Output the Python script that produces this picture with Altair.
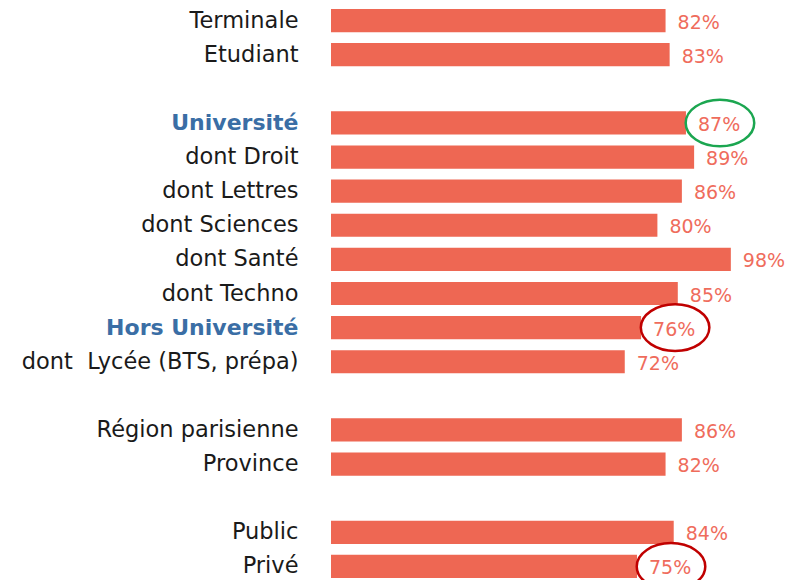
import altair as alt
import pandas as pd

categories = ["Terminale", "Etudiant", " ", "Université", "dont Droit", "dont Lettres",
              "dont Sciences", "dont Santé", "dont Techno", "Hors Université",
              "dont\u00a0 Lycée (BTS, prépa)", "  ", "Région parisienne", "Province", "   ",
              "Public", "Privé"]
values = [82, 83, None, 87, 89, 86, 80, 98, 85, 76, 72, None, 86, 82, None, 84, 75]
headers = ["Université", "Hors Université"]
circled_green = ["Université"]
circled_red = ["Hors Université", "Privé"]

df = pd.DataFrame({"cat": categories, "val": values})
df = df.dropna()

BAR = "#EE6753"
TXT = "#EF6C5C"

hdr_test = "indexof(" + str(headers).replace('"', "'") + ", datum.value) >= 0"

y = alt.Y("cat:N", sort=categories,
          scale=alt.Scale(domain=categories, paddingInner=0.32, paddingOuter=0),
          axis=alt.Axis(title=None, domain=False, ticks=False, grid=False,
                        labelPadding=33,
                        labelFont="DejaVu Sans",
                        labelFontSize={"condition": {"test": hdr_test, "value": 22}, "value": 22.5},
                        labelFontWeight={"condition": {"test": hdr_test, "value": "bold"}, "value": "normal"},
                        labelColor={"condition": {"test": hdr_test, "value": "#3A6EA5"}, "value": "#1a1a1a"},
                        labelLimit=400))
x = alt.X("val:Q", scale=alt.Scale(domain=[0, 100]), axis=None)

base = alt.Chart(df)

bars = base.mark_bar(color=BAR).encode(x=x, y=y)

labels = base.transform_calculate(lab="datum.val + '%'").mark_text(
    align="left", baseline="middle", dx=12, dy=2, font="DejaVu Sans", fontSize=19,
    color=TXT).encode(x=x, y=y, text="lab:N")

ellipse = "M -1 0 A 1 0.68 0 1 0 1 0 A 1 0.68 0 1 0 -1 0 Z"

green = base.transform_filter(
    alt.FieldOneOfPredicate(field="cat", oneOf=circled_green)
).mark_point(shape=ellipse, filled=False, stroke="#1BA650", strokeWidth=2.5,
             size=4700, opacity=1, xOffset=34).encode(x=x, y=y)

red = base.transform_filter(
    alt.FieldOneOfPredicate(field="cat", oneOf=circled_red)
).mark_point(shape=ellipse, filled=False, stroke="#C00000", strokeWidth=2.5,
             size=4700, opacity=1, xOffset=34).encode(x=x, y=y)

chart = alt.layer(bars, labels, green, red).properties(
    width=408, height=569,
    padding={"left": 323, "right": 47, "top": 1, "bottom": 2},
    autosize=alt.AutoSizeParams(type="none"),
).configure_view(stroke=None)

chart.save("out.html", embed_options={"renderer": "svg", "actions": False})
